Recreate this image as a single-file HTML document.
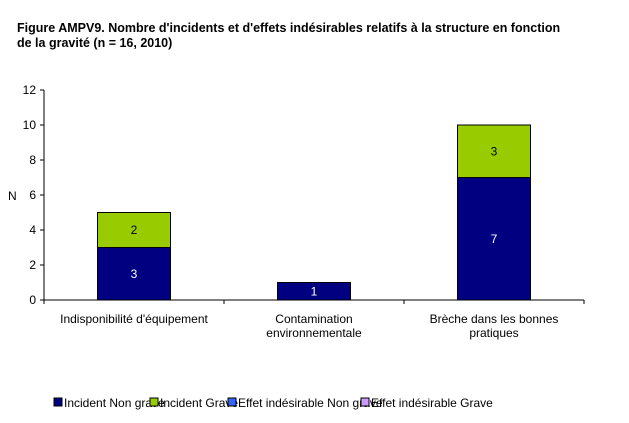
<!DOCTYPE html>
<html><head><meta charset="utf-8"><style>
body{margin:0;background:#fff;width:629px;height:418px;overflow:hidden;font-family:"Liberation Sans",Arial,sans-serif}
</style></head><body>
<svg width="629" height="418" xmlns="http://www.w3.org/2000/svg" font-family="Liberation Sans, Arial, sans-serif">
<text x="17" y="32" font-size="12.5" font-weight="bold">Figure AMPV9. Nombre d'incidents et d'effets indésirables relatifs à la structure en fonction</text>
<text x="17" y="47" font-size="12.5" font-weight="bold">de la gravité (n = 16, 2010)</text>
<text x="8" y="200" font-size="12">N</text>
<g id="axes"></g><g id="bars"></g>
<g font-size="12">
<rect x="54" y="398" width="8" height="8" fill="#000080" stroke="#000"/><text x="64" y="407">Incident Non grave</text>
<rect x="150" y="398" width="8" height="8" fill="#99cc00" stroke="#000"/><text x="160" y="407">Incident Grave</text>
<rect x="228" y="398" width="8" height="8" fill="#3366ff" stroke="#000"/><text x="238" y="407">Effet indésirable Non grave</text>
<rect x="361" y="398" width="8" height="8" fill="#cc99ff" stroke="#000"/><text x="371" y="407">Effet indésirable Grave</text>
</g>
</svg>
<script>
const categories=[["Indisponibilité d'équipement"],["Contamination","environnementale"],["Brèche dans les bonnes","pratiques"]];
const incidentNonGrave=[3,1,7];
const incidentGrave=[2,0,3];
const yTicks=[0,2,4,6,8,10,12];
const NS="http://www.w3.org/2000/svg";
const x0=44,step=180,bw=73,yb=300,yt=90,ymax=12;
const y=v=>yb-(v/ymax)*(yb-yt);
const cx=i=>x0+step*i+step/2;
function mk(tag,attrs,parent){const e=document.createElementNS(NS,tag);for(const k in attrs)e.setAttribute(k,attrs[k]);parent.appendChild(e);return e;}
const ax=document.getElementById('axes'),bars=document.getElementById('bars');
let l=mk('line',{x1:x0,y1:yt,x2:x0,y2:yb,stroke:'#000'},ax);


l=mk('line',{x1:x0,y1:yb,x2:x0+step*3,y2:yb,stroke:'#000'},ax);


yTicks.forEach(t=>{mk('line',{x1:x0-4,y1:y(t),x2:x0,y2:y(t),stroke:'#000'},ax);
const tx=mk('text',{x:x0-8,y:y(t)+4,'font-size':12,'text-anchor':'end'},ax);tx.textContent=t;

});
for(let i=0;i<=3;i++)mk('line',{x1:x0+step*i,y1:yb,x2:x0+step*i,y2:yb+4,stroke:'#000'},ax);
categories.forEach((c,i)=>{c.forEach((s,j)=>{const tx=mk('text',{x:cx(i),y:yb+23+j*14,'font-size':12,'text-anchor':'middle'},ax);tx.textContent=s;

});
const a=incidentNonGrave[i],b=incidentGrave[i];
if(a>0){const r=mk('rect',{x:cx(i)-bw/2,y:y(a),width:bw,height:yb-y(a),fill:'#000080',stroke:'#000'},bars);


const t=mk('text',{x:cx(i),y:(y(a)+yb)/2+4,'font-size':12,'text-anchor':'middle',fill:'#fff'},bars);t.textContent=a;}
if(b>0){const r=mk('rect',{x:cx(i)-bw/2,y:y(a+b),width:bw,height:y(a)-y(a+b),fill:'#99cc00',stroke:'#000'},bars);


const t=mk('text',{x:cx(i),y:(y(a+b)+y(a))/2+4,'font-size':12,'text-anchor':'middle',fill:'#000'},bars);t.textContent=b;}
});
</script>
</body></html>
